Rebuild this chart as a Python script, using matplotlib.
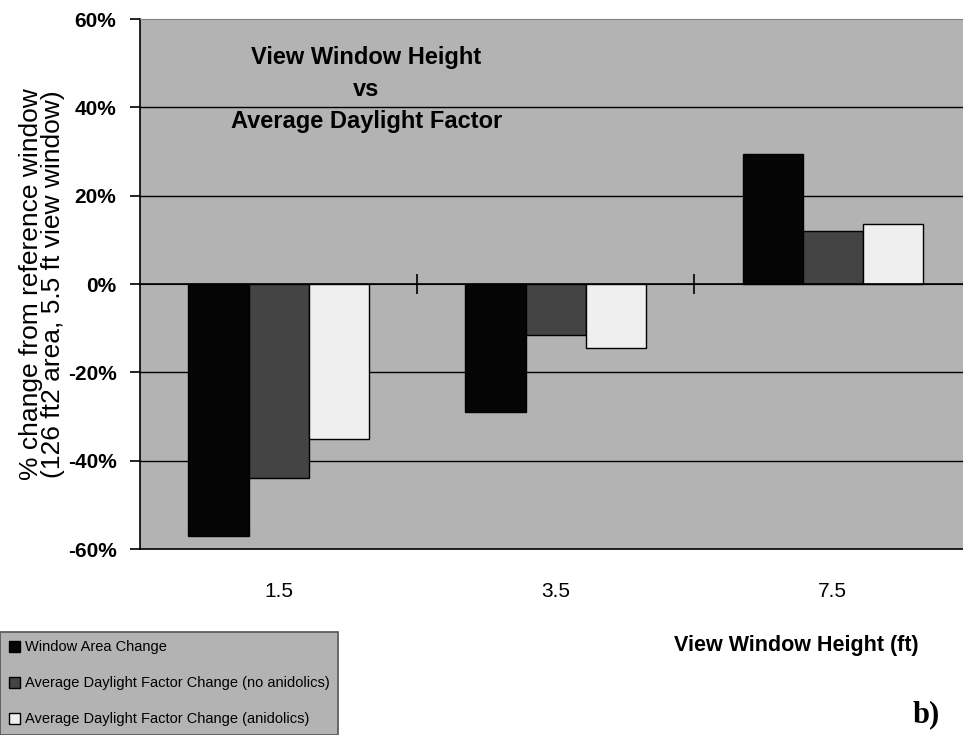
from matplotlib import pyplot as plt
import numpy as np

plt.rcParams['font.family'] = ['Liberation Sans', 'DejaVu Sans']

heights = ["1.5", "3.5", "7.5"]
area_change = [-57, -29, 29.5]
adf_no_anidolics = [-44, -11.5, 12]
adf_anidolics = [-35, -14.5, 13.5]
series_names = ["Window Area Change",
                "Average Daylight Factor Change (no anidolics)",
                "Average Daylight Factor Change (anidolics)"]
yticks = [-60, -40, -20, 0, 20, 40, 60]

fig = plt.figure(figsize=(9.63, 7.35), dpi=100)
ax = fig.add_axes([0.1454, 0.253, 0.8546, 0.721])
bg = '#b3b3b3'
ax.set_facecolor(bg)

x = np.arange(len(heights))
w = 0.217
colors = ['#050505', '#444444', '#efefef']
for k, (vals, c) in enumerate(zip([area_change, adf_no_anidolics, adf_anidolics], colors)):
    ax.bar(x + (k - 1) * w, vals, w, color=c, edgecolor='black', linewidth=1.0,
           label=series_names[k], zorder=3)

ax.set_xlim(-0.5, 2.47)
ax.set_ylim(-60, 60)
ax.set_yticks(yticks)
ax.set_yticklabels(["%d%%" % v for v in yticks], fontsize=15, fontweight='bold')
for v in yticks:
    if v not in (-60, 0, 60):
        ax.axhline(v, color='black', linewidth=1.0, zorder=1)
ax.axhline(0, color='black', linewidth=1.2, zorder=4)
ax.tick_params(axis='y', direction='out', length=7, width=1.2, pad=10)

ax.set_xticks(x)
ax.set_xticklabels(heights, fontsize=15)
ax.tick_params(axis='x', length=0, pad=24)

# group separator ticks on the zero line
sec = ax.secondary_xaxis(0.5)
sec.set_xticks([0.5, 1.5])
sec.set_xticklabels(['', ''])
sec.tick_params(direction='inout', length=14, width=1.2)
sec.spines['bottom'].set_visible(False)

for s in ['left', 'bottom']:
    ax.spines[s].set_color('black')
    ax.spines[s].set_linewidth(1.2)
ax.spines['top'].set_color('#808080')
ax.spines['right'].set_visible(False)

ax.set_ylabel("% change from reference window\n(126 ft2 area, 5.5 ft view window)",
              fontsize=19, labelpad=2, linespacing=0.9)

ax.text(0.275, 0.867, "View Window Height\nvs\nAverage Daylight Factor",
        transform=ax.transAxes, ha='center', va='center', fontsize=17,
        fontweight='bold', linespacing=1.5)

fig.text(0.827, 0.122, "View Window Height (ft)", ha='center', va='center',
         fontsize=15.5, fontweight='bold')
fig.text(0.962, 0.028, "b)", ha='center', va='center', fontsize=22,
         fontweight='bold', family='Liberation Serif')

leg = fig.legend(loc='lower left', bbox_to_anchor=(0.0, 0.0), fontsize=10.5,
                 frameon=True, fancybox=False, edgecolor='#555555',
                 facecolor=bg, framealpha=1.0, handlelength=0.8,
                 handleheight=0.8, handletextpad=0.3, borderpad=0.6,
                 borderaxespad=0.0, labelspacing=1.5)
leg.get_frame().set_linewidth(1.2)

fig.savefig('out.png', dpi=100)
